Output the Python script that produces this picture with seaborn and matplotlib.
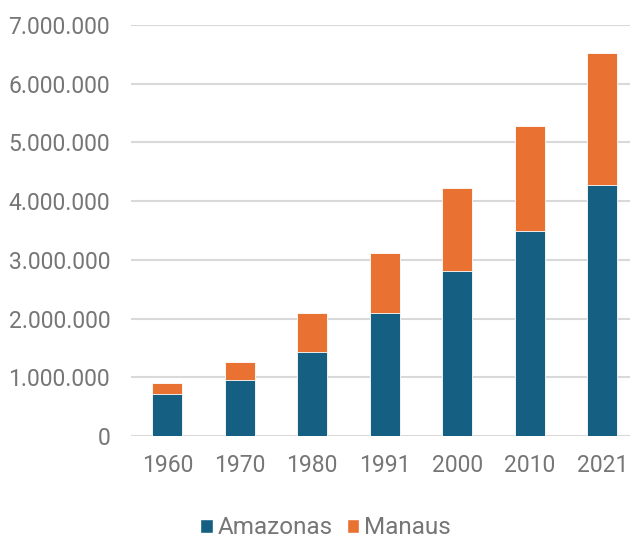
import pandas as pd
import matplotlib.pyplot as plt
import seaborn as sns
from matplotlib.patches import Patch
from matplotlib.ticker import FuncFormatter

years = ["1960", "1970", "1980", "1991", "2000", "2010", "2021"]
amazonas = [721215, 955235, 1430528, 2103243, 2812557, 3483985, 4269995]
manaus = [175343, 311622, 665000, 1011501, 1405835, 1802014, 2255903]

blue = "#156082"
orange = "#E97132"
text_gray = "#767676"
grid_gray = "#D9D9D9"

sns.set_theme(style="white")
plt.rcParams["font.family"] = ["Roboto", "DejaVu Sans"]

df = pd.DataFrame({"ano": years, "Amazonas": amazonas, "Manaus": manaus})
df["total"] = df["Amazonas"] + df["Manaus"]

fig = plt.figure(figsize=(6.3, 5.38), dpi=100)
ax = fig.add_axes([131 / 630, 102 / 538, 507.5 / 630, 411 / 538])

# stacked: total in orange first, Amazonas drawn on top
sns.barplot(data=df, x="ano", y="total", color=orange, saturation=1,
            width=0.41, edgecolor="white", linewidth=0.6, ax=ax)
sns.barplot(data=df, x="ano", y="Amazonas", color=blue, saturation=1,
            width=0.41, edgecolor="white", linewidth=0.6, ax=ax)

ax.set_xlim(-0.5, 6.5)
ax.set_ylim(0, 7000000)
ax.set_yticks(range(0, 7000001, 1000000))
ax.yaxis.set_major_formatter(FuncFormatter(lambda v, p: f"{int(v):,}".replace(",", ".")))
ax.grid(axis="y", color=grid_gray, linewidth=1.5)
ax.set_axisbelow(True)
for s in ax.spines.values():
    s.set_visible(False)
ax.tick_params(axis="both", length=0, labelsize=16.5, labelcolor=text_gray)
ax.tick_params(axis="y", pad=15)
ax.tick_params(axis="x", pad=13)
ax.set_xlabel("")
ax.set_ylabel("")

handles = [Patch(facecolor=blue, label="Amazonas"), Patch(facecolor=orange, label="Manaus")]
leg = fig.legend(handles=handles, loc="center", bbox_to_anchor=(0.517, 0.019), ncol=2,
                 frameon=False, fontsize=17.5, handlelength=0.5, handleheight=0.5,
                 handletextpad=0.2, columnspacing=0.6, borderpad=0.2)
for t in leg.get_texts():
    t.set_color(text_gray)

fig.savefig("out.png", dpi=100)
